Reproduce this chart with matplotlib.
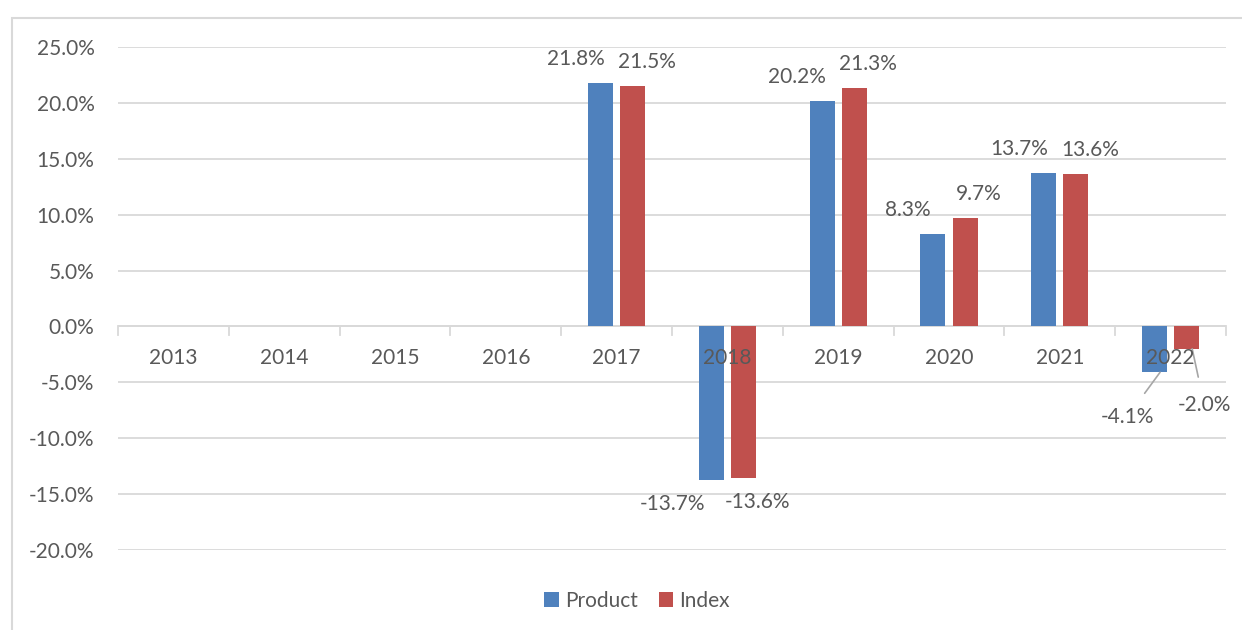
import matplotlib.pyplot as plt
from matplotlib.patches import Rectangle
import numpy as np

years = ['2013', '2014', '2015', '2016', '2017', '2018', '2019', '2020', '2021', '2022']
product = [np.nan, np.nan, np.nan, np.nan, 21.8, -13.7, 20.2, 8.3, 13.7, -4.1]
index = [np.nan, np.nan, np.nan, np.nan, 21.5, -13.6, 21.3, 9.7, 13.6, -2.0]

blue = '#4f81bd'
red = '#c0504d'
txt = '#595959'
grid = '#d9d9d9'
fs = 15
plt.rcParams['font.family'] = ['Lato', 'DejaVu Sans']

fig = plt.figure(figsize=(12.42, 6.3), dpi=100)
ax = fig.add_axes([118 / 1242, 1 - 550 / 630, 1108 / 1242, 503 / 630])

# outer chart border
fig.patches.append(Rectangle((12 / 1242, -0.01), 1.0, 1 - 18 / 630 + 0.01, transform=fig.transFigure,
                             fill=False, edgecolor=grid, linewidth=1.5))

x = np.arange(len(years))
w = 0.225
off = 0.145
bp = ax.bar(x - off, product, w, color=blue, label='Product', zorder=3)
bi = ax.bar(x + off, index, w, color=red, label='Index', zorder=3)

ax.set_xlim(-0.5, len(years) - 0.5)
ax.set_ylim(-20, 25)
ax.set_yticks(np.arange(-20, 26, 5))
ax.set_yticklabels([f'{v:.1f}%' for v in np.arange(-20, 26, 5)], color=txt, fontsize=fs)
ax.tick_params(axis='y', length=0, pad=17)
ax.grid(axis='y', color=grid, linewidth=1.3, zorder=0)
for s in ax.spines.values():
    s.set_visible(False)
ax.set_xticks([])

# zero axis with tick marks at category edges
ax.axhline(0, color=grid, linewidth=1.3, zorder=2)
for b in np.arange(-0.5, len(years), 1):
    ax.plot([b, b], [0, -0.75], color=grid, linewidth=1.3, zorder=2, clip_on=False)
for i, y in enumerate(years):
    ax.text(i, -2.85, y, ha='center', va='center', color=txt, fontsize=fs, zorder=5)

# data labels
def label(i, v, dx, dy):
    ax.annotate(f'{v:.1f}%', (i, v), xytext=(dx, dy), textcoords='offset pixels',
                ha='center', va='center', color=txt, fontsize=fs)

for i in range(len(years) - 1):
    if np.isnan(product[i]):
        continue
    sgn = 1 if product[i] > 0 else -1
    dxb = -39 if product[i] < 0 else -25
    label(i - off, product[i], dxb, sgn * 24)
    sgn = 1 if index[i] > 0 else -1
    label(i + off, index[i], 14, sgn * 24)

# 2022 labels with leader lines
i = len(years) - 1
ax.annotate(f'{product[i]:.1f}%', (i - off + 0.05, product[i]), xytext=(-33, -45),
            textcoords='offset pixels', ha='center', va='center', color=txt, fontsize=fs,
            arrowprops=dict(arrowstyle='-', color='#a6a6a6', lw=1.2, shrinkA=10, shrinkB=0))
ax.annotate(f'{index[i]:.1f}%', (i + off + 0.05, index[i]), xytext=(12, -56),
            textcoords='offset pixels', ha='center', va='center', color=txt, fontsize=fs,
            arrowprops=dict(arrowstyle='-', color='#a6a6a6', lw=1.2, shrinkA=11, shrinkB=0))

fig.legend(handles=[bp, bi], loc='center', bbox_to_anchor=(637 / 1242, 1 - 601 / 630), ncol=2,
           frameon=False, fontsize=fs, handlelength=0.7, handleheight=0.7,
           handletextpad=0.3, columnspacing=1.0, labelcolor=txt)

fig.savefig('out.png', dpi=100)
